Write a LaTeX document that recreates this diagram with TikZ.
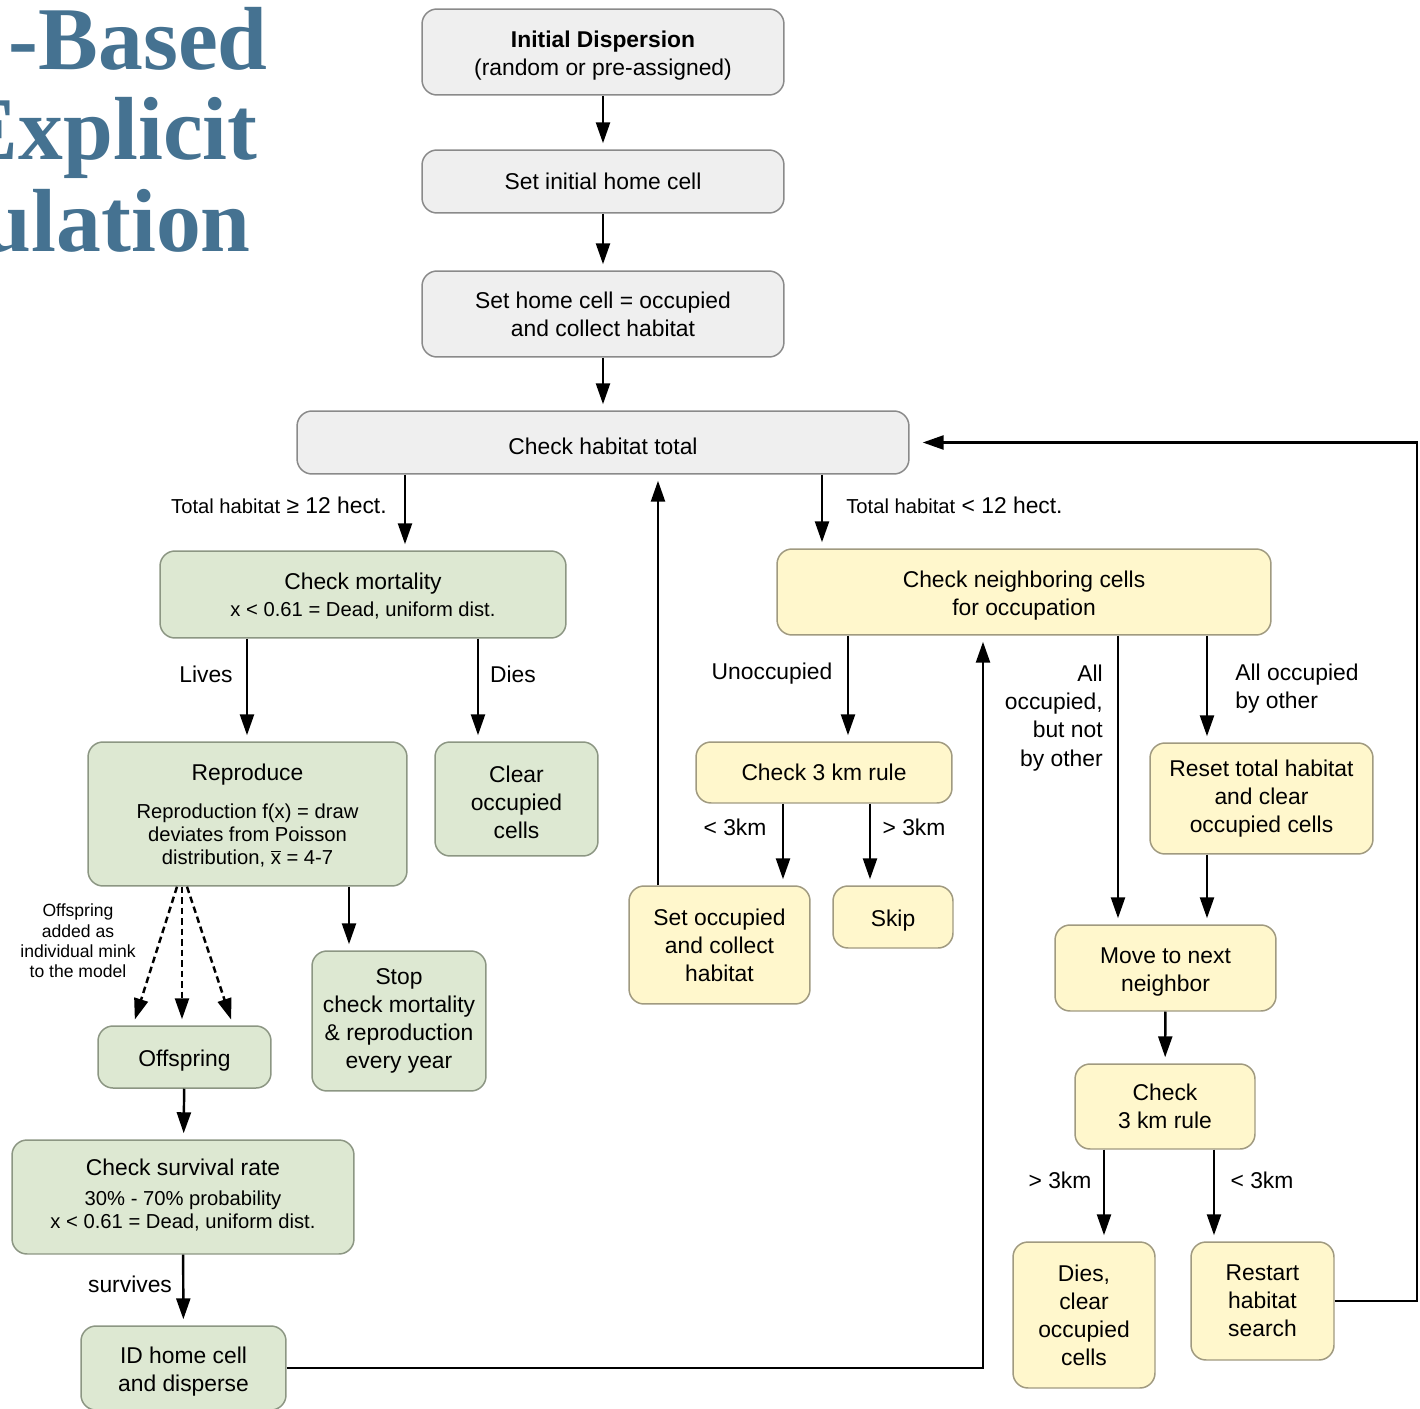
\documentclass[tikz,border=0pt]{standalone}
\usepackage{fontspec}
\setmainfont{Liberation Sans}
\newfontfamily\titlefont{Liberation Serif}
\usetikzlibrary{arrows.meta,positioning}

\definecolor{greyfill}{HTML}{EFEFEF}
\definecolor{greyline}{HTML}{8A8A8A}
\definecolor{greenfill}{HTML}{DDE8D2}
\definecolor{greenline}{HTML}{8C9683}
\definecolor{yellowfill}{HTML}{FFF7CC}
\definecolor{yellowline}{HTML}{A09A80}
\definecolor{titleblue}{RGB}{69,114,145}

\newcommand{\detail}[1]{{\fontsize{11.5}{13}\selectfont\begin{tabular}{@{}c@{}}#1\end{tabular}}}
\newcommand{\lowtxt}{\rule{0pt}{13.5pt}}

\begin{document}
\begin{tikzpicture}[
  x=0.02cm, y=-0.02cm,
  box/.style={rounded corners=0.3cm, line width=0.85pt, inner sep=0pt,
    font=\fontsize{13}{16}\selectfont, align=center},
  greybox/.style={box, draw=greyline, fill=greyfill},
  greenbox/.style={box, draw=greenline, fill=greenfill},
  yellowbox/.style={box, draw=yellowline, fill=yellowfill},
  lbl/.style={font=\fontsize{13}{16}\selectfont, inner sep=0pt},
  arr/.style={-{Triangle[length=0.42cm, width=0.28cm]}, line width=1.4pt,
    shorten >=0.12cm},
  dasharr/.style={arr, dash pattern=on 0.13cm off 0.08cm},
  titletxt/.style={font=\titlefont\bfseries\fontsize{51}{51}\selectfont,
    text=titleblue, anchor=base east, inner sep=0pt},
]
\useasboundingbox (0,0) rectangle (1420,1409);
\clip (0,0) rectangle (1420,1409);

%% Title fragment
\node[titletxt] (title1) at (268,70)  {-Based};
\node[titletxt] (title2) at (258,160) {Explicit};
\node[titletxt] (title3) at (251,252) {ulation};

%% Start sequence
\node[greybox, minimum width=7.24cm, minimum height=1.72cm] (init) at (603,52)
  {\lowtxt\textbf{Initial Dispersion}\\(random or pre-assigned)};
\node[greybox, minimum width=7.24cm, minimum height=1.26cm] (sethome) at (603,181.5)
  {Set initial home cell};
\node[greybox, minimum width=7.24cm, minimum height=1.72cm] (occ) at (603,314)
  {Set home cell = occupied\\and collect habitat};
\node[greybox, minimum width=12.24cm, minimum height=1.26cm] (total) at (603,442.5)
  {\lowtxt Check habitat total};

\draw[arr] (init) -- (sethome);
\draw[arr] (sethome) -- (occ);
\draw[arr] (occ) -- (total);

%% Left branch: mortality and reproduction
\node[greenbox, minimum width=8.12cm, minimum height=1.74cm] (mort) at (363,594.5)
  {\lowtxt Check mortality\\\detail{x < 0.61 = Dead, uniform dist.}};
\node[greenbox, minimum width=6.38cm, minimum height=2.88cm] (repro) at (247.5,814)
  {\lowtxt Reproduce\\[9pt]\detail{Reproduction f(x) = draw\\deviates from Poisson\\distribution, $\overline{\mbox{x}}$ = 4-7}};
\node[greenbox, minimum width=3.26cm, minimum height=2.28cm] (clear) at (516.5,799)
  {\lowtxt Clear\\occupied\\cells};
\node[greenbox, minimum width=3.48cm, minimum height=2.80cm] (stop) at (399,1021)
  {Stop\\check mortality\\\& reproduction\\every year};
\node[greenbox, minimum width=3.46cm, minimum height=1.24cm] (offspring) at (184.5,1057)
  {\lowtxt Offspring};
\node[greenbox, minimum width=6.84cm, minimum height=2.28cm] (survival) at (183,1197)
  {Check survival rate\\[7pt]\detail{30\% - 70\% probability\\x < 0.61 = Dead, uniform dist.}};
\node[greenbox, minimum width=4.10cm, minimum height=1.68cm] (idhome) at (183.5,1368)
  {\lowtxt ID home cell\\and disperse};

\node[lbl, anchor=east] (lblge) at (387,505)
  {{\fontsize{11.5}{13}\selectfont Total habitat} ≥ 12 hect.};
\node[lbl] (lbllives) at (206,674) {Lives};
\node[lbl] (lbldies) at (513,674) {Dies};
\node[lbl, font=\fontsize{10}{11.5}\selectfont, align=center] (lbloff) at (78,941)
  {Offspring\\added as\\individual mink\\to the model};
\node[lbl] (lblsurv) at (130,1284) {survives};

\draw[arr] (total.south -| 405,0) -- (mort.north -| 405,0);
\draw[arr] (mort.south -| 247,0) -- (repro.north -| 247,0);
\draw[arr] (mort.south -| 478,0) -- (clear.north -| 478,0);
\draw[arr] (repro.south -| 349,0) -- (stop.north -| 349,0);
\draw[dasharr] (repro.south -| 177,0) -- (offspring.north -| 133,0);
\draw[dasharr] (repro.south -| 182,0) -- (offspring.north -| 182,0);
\draw[dasharr] (repro.south -| 187,0) -- (offspring.north -| 233,0);
\draw[arr] (offspring) -- (survival);
\draw[arr] (survival) -- (idhome);

%% Right branch: neighbouring cells
\node[yellowbox, minimum width=9.88cm, minimum height=1.72cm] (neighbor) at (1024,592)
  {\lowtxt Check neighboring cells\\for occupation};
\node[yellowbox, minimum width=5.12cm, minimum height=1.22cm] (check3) at (824,772.5)
  {Check 3 km rule};
\node[yellowbox, minimum width=3.62cm, minimum height=2.36cm] (setocc) at (719.5,945)
  {Set occupied\\and collect\\habitat};
\node[yellowbox, minimum width=2.40cm, minimum height=1.24cm] (skip) at (893,917)
  {\lowtxt Skip};
\node[yellowbox, minimum width=4.46cm, minimum height=2.22cm] (reset) at (1261.5,798.5)
  {Reset total habitat\\and clear\\occupied cells};
\node[yellowbox, minimum width=4.42cm, minimum height=1.72cm] (move) at (1165.5,968)
  {\lowtxt Move to next\\neighbor};
\node[yellowbox, minimum width=3.60cm, minimum height=1.70cm] (checkb) at (1165,1106.5)
  {Check\\3 km rule};
\node[yellowbox, minimum width=2.84cm, minimum height=2.92cm] (dies) at (1084,1315)
  {Dies,\\clear\\occupied\\cells};
\node[yellowbox, minimum width=2.86cm, minimum height=2.36cm] (restart) at (1262.5,1301)
  {Restart\\habitat\\search};

\node[lbl, anchor=west] (lbllt) at (846,505)
  {{\fontsize{11.5}{13}\selectfont Total habitat} < 12 hect.};
\node[lbl] (lblunocc) at (772,674) {Unoccupied};
\node[lbl] (lblltA) at (735,827) {< 3km};
\node[lbl] (lblgtA) at (914,827) {> 3km};
\node[lbl, anchor=east, align=right] (lblallocc) at (1103,718)
  {All\\occupied,\\but not\\by other};
\node[lbl, anchor=west, align=left] (lblother) at (1235,689)
  {All occupied\\by other};
\node[lbl] (lblgtB) at (1060,1180) {> 3km};
\node[lbl] (lblltB) at (1262,1180) {< 3km};

\draw[arr] (total.south -| 822,0) -- (neighbor.north -| 822,0);
\draw[arr] (neighbor.south -| 848,0) -- (check3.north -| 848,0);
\draw[arr] (check3.south -| 783,0) -- (setocc.north -| 783,0);
\draw[arr] (check3.south -| 870,0) -- (skip.north -| 870,0);
\draw[arr] (neighbor.south -| 1118,0) -- (move.north -| 1118,0);
\draw[arr] (neighbor.south -| 1207,0) -- (reset.north -| 1207,0);
\draw[arr] (reset.south -| 1207,0) -- (move.north -| 1207,0);
\draw[arr] (move) -- (checkb);
\draw[arr] (checkb.south -| 1104,0) -- (dies.north -| 1104,0);
\draw[arr] (checkb.south -| 1214,0) -- (restart.north -| 1214,0);

%% Feedback loops
\draw[arr] (setocc.north -| 658,0) -- (total.south -| 658,0);
\draw[arr] (idhome.east) -| (neighbor.south -| 983,0);
\draw[arr, shorten >=0.26cm] (restart.east) -- ++(82,0) |- (total.east);

\end{tikzpicture}
\end{document}
